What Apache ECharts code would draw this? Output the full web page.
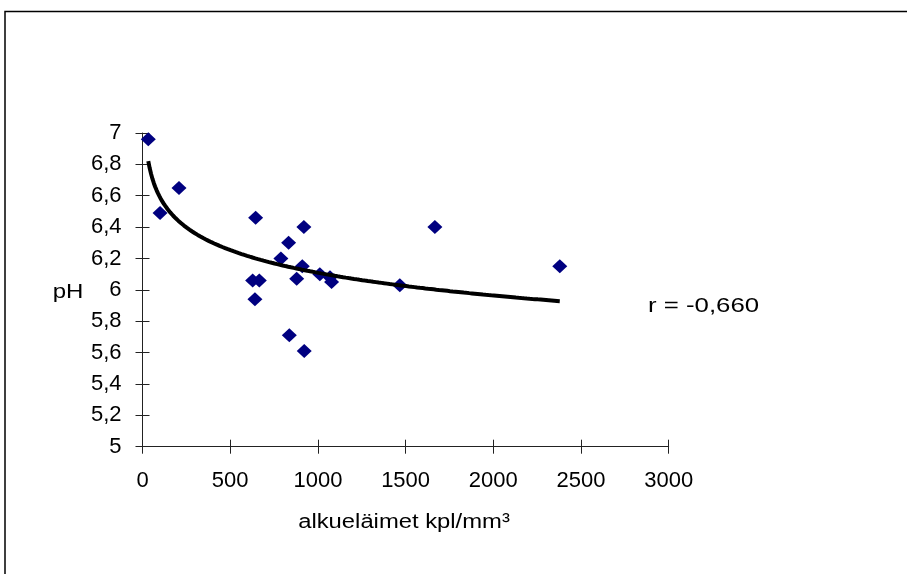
<!DOCTYPE html>
<html>
<head>
<meta charset="utf-8">
<script src="https://cdn.jsdelivr.net/npm/echarts@6/dist/echarts.min.js"></script>
<style>
html,body{margin:0;padding:0;background:#fff;}
#chart{width:907px;height:574px;}
</style>
</head>
<body>
<div id="chart"></div>
<script>
// Data
var xValues = [33, 100, 208, 645, 920, 833, 789, 911, 879, 1011, 1069, 1078, 628, 666, 641, 1467, 837, 922, 1667, 2379];
var yValues = [6.96, 6.49, 6.65, 6.46, 6.40, 6.30, 6.20, 6.15, 6.07, 6.10, 6.08, 6.05, 6.06, 6.06, 5.94, 6.03, 5.71, 5.61, 6.40, 6.15];
var xTicks = [0, 500, 1000, 1500, 2000, 2500, 3000];
var yTicks = [5, 5.2, 5.4, 5.6, 5.8, 6, 6.2, 6.4, 6.6, 6.8, 7];
var xTitle = 'alkueläimet kpl/mm³';
var yTitle = 'pH';
var rLabel = 'r = -0,660';

var points = xValues.map(function (x, i) { return [x, yValues[i]]; });

// Logarithmic trendline (least squares y = a + b ln x), as in the reference
var n = xValues.length, sL = 0, sY = 0, sLL = 0, sLY = 0;
for (var i = 0; i < n; i++) {
  var l = Math.log(xValues[i]);
  sL += l; sY += yValues[i]; sLL += l * l; sLY += l * yValues[i];
}
var b = (n * sLY - sL * sY) / (n * sLL - sL * sL);
var a = (sY - b * sL) / n;
var xMin = Math.min.apply(null, xValues), xMax = Math.max.apply(null, xValues);
var trend = [];
for (var k = 0; k <= 300; k++) {
  var xv = xMin + (xMax - xMin) * k / 300;
  trend.push([xv, a + b * Math.log(xv)]);
}

var font = 'Liberation Sans, Arial, Helvetica, sans-serif';
var fmt = function (v) { return String(+v.toFixed(1)).replace('.', ','); };

var chart = echarts.init(document.getElementById('chart'), null, {renderer: 'canvas'});
chart.setOption({
  animation: false,
  backgroundColor: '#fff',
  grid: {left: 142.5, top: 133, right: 238.3, bottom: 127.3, containLabel: false},
  xAxis: [{
    type: 'value', min: xTicks[0], max: xTicks[xTicks.length - 1], interval: 500,
    splitLine: {show: false},
    axisLine: {show: true, onZero: false, lineStyle: {color: '#222', width: 1}},
    axisTick: {show: true, length: 7, lineStyle: {color: '#222'}},
    axisLabel: {margin: 23, fontSize: 22, color: '#000', fontFamily: font, formatter: fmt}
  }, {
    type: 'value', position: 'bottom', min: xTicks[0], max: xTicks[xTicks.length - 1], interval: 500,
    splitLine: {show: false},
    axisLine: {show: false, onZero: false},
    axisTick: {show: true, inside: true, length: 7, lineStyle: {color: '#222'}},
    axisLabel: {show: false}
  }],
  yAxis: [{
    type: 'value', min: yTicks[0], max: yTicks[yTicks.length - 1], interval: 0.2,
    splitLine: {show: false},
    axisLine: {show: true, onZero: false, lineStyle: {color: '#222', width: 1}},
    axisTick: {show: true, length: 7, lineStyle: {color: '#222'}},
    axisLabel: {margin: 21, fontSize: 22, color: '#000', fontFamily: font, formatter: fmt}
  }, {
    type: 'value', position: 'left', min: yTicks[0], max: yTicks[yTicks.length - 1], interval: 0.2,
    splitLine: {show: false},
    axisLine: {show: false, onZero: false},
    axisTick: {show: true, inside: true, length: 7, lineStyle: {color: '#222'}},
    axisLabel: {show: false}
  }],
  series: [{
    type: 'scatter',
    data: points,
    symbol: 'diamond',
    symbolSize: [15, 14],
    itemStyle: {color: '#000080', opacity: 1},
    z: 2
  }, {
    type: 'line',
    data: trend,
    showSymbol: false,
    smooth: false,
    lineStyle: {color: '#000', width: 4},
    z: 3
  }],
  graphic: [{
    type: 'rect',
    shape: {x: 5, y: 11.5, width: 1000, height: 1000},
    style: {fill: 'none', stroke: '#000', lineWidth: 1.5},
    silent: true
  }, {
    type: 'text', x: 68, y: 292, scaleX: 1.2,
    style: {text: yTitle, font: '20px ' + font, fill: '#000', align: 'center', verticalAlign: 'middle'}
  }, {
    type: 'text', x: 648, y: 306, scaleX: 1.29,
    style: {text: rLabel, font: '20px ' + font, fill: '#000', align: 'left', verticalAlign: 'middle'}
  }, {
    type: 'text', x: 404, y: 522, scaleX: 1.19,
    style: {text: xTitle, font: '20px ' + font, fill: '#000', align: 'center', verticalAlign: 'middle'}
  }]
});
</script>
</body>
</html>
